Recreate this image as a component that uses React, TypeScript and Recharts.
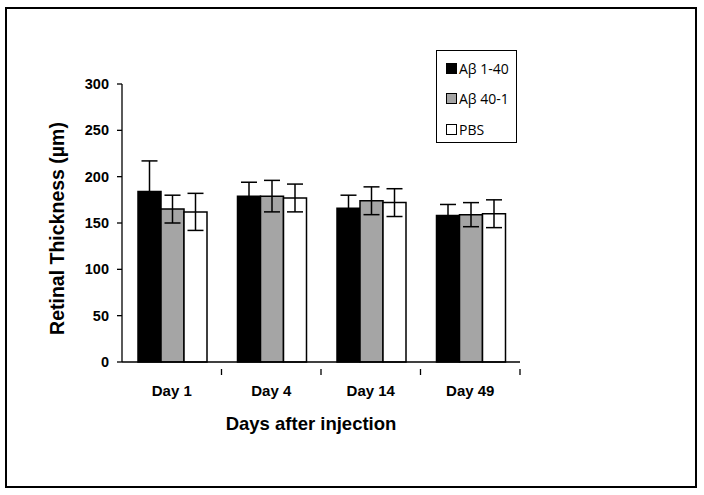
import React from "react";
import { BarChart, Bar, XAxis, YAxis, ErrorBar } from "recharts";

const categories = ["Day 1", "Day 4", "Day 14", "Day 49"];
const abeta140 = [184, 179, 166, 158];
const abeta140Err = [33, 15, 14, 12];
const abeta401 = [165, 179, 174, 159];
const abeta401Err = [15, 17, 15, 13];
const pbs = [162, 177, 172, 160];
const pbsErr = [20, 15, 15, 15];
const yTicks = [0, 50, 100, 150, 200, 250, 300];

const data = categories.map((c, i) => ({
  name: c,
  a: abeta140[i],
  aErr: abeta140Err[i],
  b: abeta401[i],
  bErr: abeta401Err[i],
  c: pbs[i],
  cErr: pbsErr[i],
}));

const legendItems = [
  { label: "Aβ 1-40", color: "#000000" },
  { label: "Aβ 40-1", color: "#a5a5a5" },
  { label: "PBS", color: "#ffffff" },
];

const FONT = "'Liberation Sans', Arial, sans-serif";

const LegendBox = () => (
  <div
    style={{
      position: "absolute",
      left: 436,
      top: 50,
      width: 81,
      height: 93,
      border: "1.5px solid #000",
      boxSizing: "border-box",
      background: "#fff",
      paddingTop: 2,
      paddingLeft: 9,
      fontFamily: "'Open Sans', sans-serif",
      fontSize: 14,
      lineHeight: "15px",
      color: "#000",
      whiteSpace: "nowrap",
    }}
  >
    {legendItems.map((it) => (
      <div key={it.label} style={{ display: "flex", alignItems: "center", height: 30.5 }}>
        <span
          style={{
            display: "inline-block",
            width: 9,
            height: 9,
            border: "1px solid #000",
            background: it.color,
            marginRight: 2,
            flexShrink: 0,
          }}
        />
        <span>{it.label}</span>
      </div>
    ))}
  </div>
);

const XTick = (props: any) => {
  const { x, y, payload } = props;
  const off = payload && typeof payload.offset === "number" && payload.offset > 0 ? payload.offset : 49.75;
  return (
    <g>
      <line x1={x + off} y1={y - 1} x2={x + off} y2={y + 5} stroke="#000" strokeWidth={1.3} />
      <text x={x} y={y + 25.5} textAnchor="middle" fontFamily={FONT} fontWeight="bold" fontSize={15} fill="#000">
        {payload.value}
      </text>
    </g>
  );
};

const YLabel = (props: any) => {
  const vb = props.viewBox || { x: 42, y: 84, width: 80, height: 278 };
  const x = vb.x + 22;
  const y = vb.y + vb.height / 2 + 5.5;
  return (
    <text
      x={x}
      y={y}
      textAnchor="middle"
      transform={`rotate(-90, ${x}, ${y})`}
      fontFamily={FONT}
      fontWeight="bold"
      fontSize={19.5}
      fill="#000"
    >
      Retinal Thickness (µm)
    </text>
  );
};

const XLabel = (props: any) => {
  const vb = props.viewBox || { x: 122, y: 362, width: 398, height: 70 };
  const x = vb.x + vb.width / 2 - 10;
  const y = vb.y + vb.height - 2;
  return (
    <text x={x} y={y} textAnchor="middle" fontFamily={FONT} fontWeight="bold" fontSize={18.5} fill="#000">
      Days after injection
    </text>
  );
};

export default function App() {
  return (
    <div style={{ position: "absolute", left: 0, top: 0, width: 704, height: 495, background: "#fff" }}>
      <div
        style={{
          position: "absolute",
          left: 5,
          top: 7,
          width: 692,
          height: 481,
          border: "2px solid #000",
          boxSizing: "border-box",
        }}
      />
      <BarChart
        width={704}
        height={495}
        data={data}
        margin={{ top: 84, right: 184, bottom: 63, left: 42 }}
        barCategoryGap={16}
        barGap={0}
      >
        <XAxis
          dataKey="name"
          axisLine={{ stroke: "#000", strokeWidth: 1.3 }}
          tickLine={false}
          tick={<XTick />}
          height={70}
          interval={0}
          label={{ content: <XLabel /> }}
        />
        <YAxis
          width={80}
          domain={[0, 300]}
          ticks={yTicks}
          interval={0}
          axisLine={{ stroke: "#000", strokeWidth: 1.3 }}
          tickLine={{ stroke: "#000", strokeWidth: 1.3 }}
          tickSize={5}
          tickMargin={8}
          tick={{ fontFamily: FONT, fontWeight: "bold", fontSize: 14.5, fill: "#000" }}
          label={{ content: <YLabel /> }}
        />
        <Bar dataKey="a" name="Aβ 1-40" fill="#000000" stroke="#000" strokeWidth={1.5} isAnimationActive={false}>
          <ErrorBar dataKey="aErr" width={8} stroke="#000" strokeWidth={1.5} />
        </Bar>
        <Bar dataKey="b" name="Aβ 40-1" fill="#a5a5a5" stroke="#000" strokeWidth={1.5} isAnimationActive={false}>
          <ErrorBar dataKey="bErr" width={8} stroke="#000" strokeWidth={1.5} />
        </Bar>
        <Bar dataKey="c" name="PBS" fill="#ffffff" stroke="#000" strokeWidth={1.5} isAnimationActive={false}>
          <ErrorBar dataKey="cErr" width={8} stroke="#000" strokeWidth={1.5} />
        </Bar>
      </BarChart>
      <LegendBox />
    </div>
  );
}
